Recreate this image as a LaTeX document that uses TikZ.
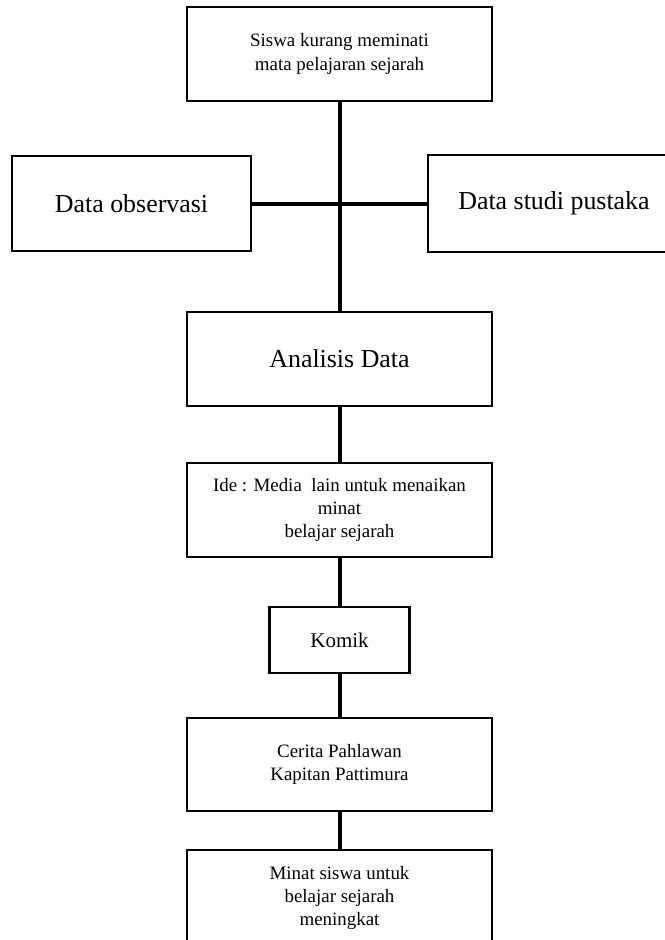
\documentclass[tikz,border=0pt]{standalone}
\usepackage{fontspec}
\setmainfont{Liberation Serif}
\usetikzlibrary{positioning}

\begin{document}
\begin{tikzpicture}[
    x=1bp, y=-1bp,
    box/.style={rectangle, draw, line width=2.5bp, inner sep=0pt, align=center, minimum width=305bp, minimum height=94bp, font=\fontsize{19}{23.5}\selectfont},
    bigbox/.style={box, font=\fontsize{26}{30}\selectfont},
    link/.style={-, line width=4bp}
]
\useasboundingbox (0,0) rectangle (665,940);

% Masalah
\node[box] (masalah) at (339.5,54) {Siswa kurang meminati\\mata pelajaran sejarah};

% Data
\node[bigbox, minimum width=239bp, minimum height=95bp] (observasi) at (131.5,203.5) {Data observasi};
\node[bigbox, minimum width=252bp, minimum height=97bp] (pustaka) at (554,203.5) {Data studi pustaka};

% Alur
\node[bigbox] (analisis) at (339.5,359) {Analisis Data};
\node[box] (ide) at (339.5,510) {Ide : Media\ \ lain untuk menaikan\\minat\\belajar sejarah};
\node[box, minimum width=140bp, minimum height=66bp, font=\fontsize{21}{25}\selectfont] (komik) at (339.5,640) {Komik};
\node[box, minimum height=93bp] (cerita) at (339.5,764.5) {Cerita Pahlawan\\Kapitan Pattimura};
\node[box, minimum height=96bp] (minat) at (339.5,898) {Minat siswa untuk\\belajar sejarah\\meningkat};

% Garis
\draw[link] (masalah) -- (analisis);
\draw[link] (observasi) -- (pustaka);
\draw[link] (analisis) -- (ide);
\draw[link] (ide) -- (komik);
\draw[link] (komik) -- (cerita);
\draw[link] (cerita) -- (minat);

\end{tikzpicture}
\end{document}
